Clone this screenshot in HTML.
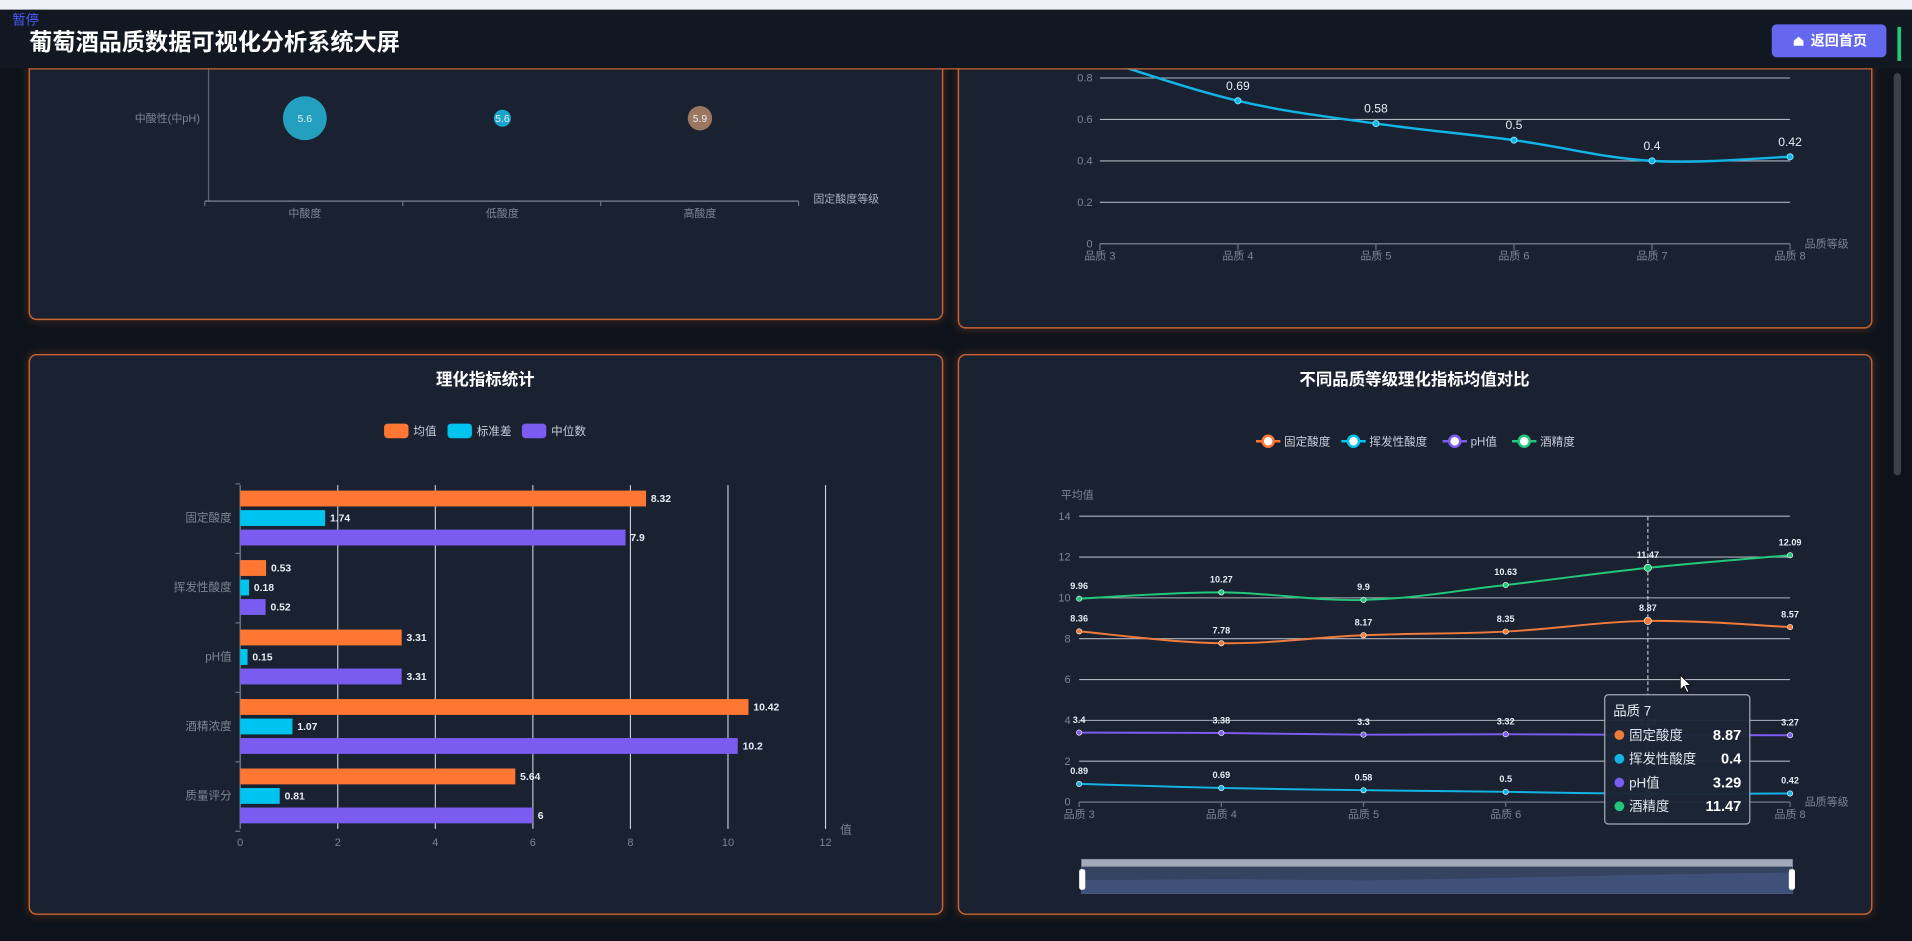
<!DOCTYPE html>
<html><head><meta charset="utf-8">
<style>
html,body{margin:0;padding:0;background:#0e131b;width:1912px;height:941px;overflow:hidden}
svg{display:block}
text{font-family:"Liberation Sans","Noto Sans CJK SC",sans-serif}
</style></head>
<body>
<svg id="root" width="1912" height="941" viewBox="0 0 1568 772" preserveAspectRatio="none" xmlns="http://www.w3.org/2000/svg">
<defs>
<filter id="glow" x="-5%" y="-5%" width="110%" height="110%"><feGaussianBlur stdDeviation="3"/></filter>
</defs>
<rect x="0" y="0" width="1568" height="772" fill="#0e131b"/>
<!-- panels -->
<g>
<rect x="24" y="30" width="749" height="232" rx="6" fill="none" stroke="#d0622c" stroke-width="3" opacity="0.35" filter="url(#glow)"/>
<rect x="24" y="30" width="749" height="232" rx="6" fill="#1a2232" stroke="#c9622f" stroke-width="1.2"/>
</g>
<g>
<rect x="786" y="30" width="749" height="239" rx="6" fill="none" stroke="#d0622c" stroke-width="3" opacity="0.35" filter="url(#glow)"/>
<rect x="786" y="30" width="749" height="239" rx="6" fill="#1a2232" stroke="#c9622f" stroke-width="1.2"/>
</g>
<g>
<rect x="24" y="291" width="749" height="459" rx="6" fill="none" stroke="#d0622c" stroke-width="3" opacity="0.35" filter="url(#glow)"/>
<rect x="24" y="291" width="749" height="459" rx="6" fill="#1a2232" stroke="#c9622f" stroke-width="1.2"/>
</g>
<g>
<rect x="786" y="291" width="749" height="459" rx="6" fill="none" stroke="#d0622c" stroke-width="3" opacity="0.35" filter="url(#glow)"/>
<rect x="786" y="291" width="749" height="459" rx="6" fill="#1a2232" stroke="#c9622f" stroke-width="1.2"/>
</g>

<!-- bubble chart static axes -->
<g id="bubble"></g>
<g id="vline"></g>
<g id="bars"></g>
<g id="cmp"></g>

<!-- header -->
<rect x="0" y="0" width="1568" height="8" fill="#eef2f8"/>
<rect x="0" y="8" width="1568" height="48" fill="#111821"/>
<line x1="24" y1="56.5" x2="1535" y2="56.5" stroke="#c9622f" stroke-width="1"/>
<text x="10" y="20" font-size="11" fill="#4a5cff">暂停</text>
<text x="24" y="41" font-size="19" font-weight="bold" fill="#ffffff">葡萄酒品质数据可视化分析系统大屏</text>
<g>
<rect x="1453" y="20" width="94" height="27" rx="4" fill="#6468ee"/>
<path d="M1471 37.5 v-4 l4 -3.5 l4 3.5 v4 z" fill="#fff"/>
<text x="1485" y="37.5" font-size="11.5" font-weight="bold" fill="#fff">返回首页</text>
</g>
<rect x="1553" y="60" width="6" height="330" rx="3" fill="#3b414b"/>
<rect x="1556" y="22" width="3" height="28" fill="#22c77a"/>
</svg>
<script>
// ---------- data ----------
const bubbleCats = ['中酸度','低酸度','高酸度'];
const bubbleVals = [5.6, 5.6, 5.9];
const bubbleSizes = [18, 7, 10];

const qualityCats = ['品质 3','品质 4','品质 5','品质 6','品质 7','品质 8'];
const volatileVals = [0.89, 0.69, 0.58, 0.5, 0.4, 0.42];
const volTicks = [0, 0.2, 0.4, 0.6, 0.8];

const barCats = ['固定酸度','挥发性酸度','pH值','酒精浓度','质量评分'];
const meanVals = [8.32, 0.53, 3.31, 10.42, 5.64];
const stdVals = [1.74, 0.18, 0.15, 1.07, 0.81];
const medianVals = [7.9, 0.52, 3.31, 10.2, 6];
const barTicks = [0, 2, 4, 6, 8, 10, 12];

const fixedAcid = [8.36, 7.78, 8.17, 8.35, 8.87, 8.57];
const volAcid = [0.89, 0.69, 0.58, 0.5, 0.4, 0.42];
const phVals = [3.4, 3.38, 3.3, 3.32, 3.29, 3.27];
const alcohol = [9.96, 10.27, 9.9, 10.63, 11.47, 12.09];
const cmpTicks = [0, 2, 4, 6, 8, 10, 12, 14];

const NS = 'http://www.w3.org/2000/svg';
function mk(parent, tag, attrs, txt){
  const e = document.createElementNS(NS, tag);
  for (const k in attrs) e.setAttribute(k, attrs[k]);
  if (txt !== undefined) e.textContent = txt;
  parent.appendChild(e);
  return e;
}
function smooth(pts){
  let d = 'M' + pts[0][0] + ' ' + pts[0][1];
  for (let i = 0; i < pts.length - 1; i++){
    const p0 = pts[i-1] || pts[i], p1 = pts[i], p2 = pts[i+1], p3 = pts[i+2] || p2;
    const t = 0.18;
    const c1 = [p1[0] + (p2[0]-p0[0])*t, p1[1] + (p2[1]-p0[1])*t];
    const c2 = [p2[0] - (p3[0]-p1[0])*t, p2[1] - (p3[1]-p1[1])*t];
    d += ' C' + c1[0] + ' ' + c1[1] + ' ' + c2[0] + ' ' + c2[1] + ' ' + p2[0] + ' ' + p2[1];
  }
  return d;
}

// ---------- bubble chart ----------
(function(){
  const g = document.getElementById('bubble');
  const bx = i => 250 + i * 162;
  mk(g,'line',{x1:171,y1:56,x2:171,y2:165,stroke:'#5b6472','stroke-width':1});
  mk(g,'line',{x1:168,y1:165,x2:655,y2:165,stroke:'#6b7482','stroke-width':1.2});
  for (let i = 0; i < 4; i++){
    const x = 168 + i * 162.3;
    mk(g,'line',{x1:x,y1:165,x2:x,y2:169,stroke:'#6b7482'});
  }
  const cols = ['#23a0bf','#1aa6cc','#9c7760'];
  bubbleCats.forEach((c,i)=>{
    const t = mk(g,'text',{x:bx(i),y:178,'font-size':9,fill:'#7d8592','text-anchor':'middle'},c);
    
    
    const b = mk(g,'circle',{cx:bx(i),cy:97,r:bubbleSizes[i],fill:cols[i]});
    
    
    mk(g,'text',{x:bx(i),y:100,'font-size':8.5,fill:'#e8eef5','text-anchor':'middle'},bubbleVals[i]);
  });
  mk(g,'text',{x:164,y:100,'font-size':9,fill:'#7d8592','text-anchor':'end'},'中酸性(中pH)');
  mk(g,'text',{x:667,y:166,'font-size':9,fill:'#a8b0bb'},'固定酸度等级');
})();

// ---------- volatile line ----------
(function(){
  const g = document.getElementById('vline');
  const x = i => 902 + i * 113.2;
  const y = v => 200 - v * 170;
  volTicks.forEach(t=>{
    if (t > 0) mk(g,'line',{x1:902,y1:y(t),x2:1468,y2:y(t),stroke:'#c8ccd4','stroke-width':0.9,opacity:0.85});
    mk(g,'text',{x:896,y:y(t)+3,'font-size':9,fill:'#7d8592','text-anchor':'end'},t);
  });
  mk(g,'line',{x1:902,y1:200,x2:1468,y2:200,stroke:'#6b7482','stroke-width':1.2});
  qualityCats.forEach((c,i)=>{
    mk(g,'line',{x1:x(i),y1:200,x2:x(i),y2:205,stroke:'#6b7482'});
    mk(g,'text',{x:x(i),y:213,'font-size':9,fill:'#7d8592','text-anchor':'middle'},c);
  });
  mk(g,'text',{x:1480,y:203,'font-size':9,fill:'#7d8592'},'品质等级');
  const pts = volatileVals.map((v,i)=>[x(i),y(v)]);
  const p = mk(g,'path',{d:smooth(pts),fill:'none',stroke:'#12b4e6','stroke-width':2});
  
  
  pts.forEach((pt,i)=>{
    const c = mk(g,'circle',{cx:pt[0],cy:pt[1],r:2.5,fill:'#12b4e6',stroke:'#7fe0ff','stroke-width':0.8});
    
    
    mk(g,'text',{x:pt[0],y:pt[1]-9,'font-size':10,fill:'#e6ebf2','text-anchor':'middle'},volatileVals[i]);
  });
})();

// ---------- bar chart ----------
(function(){
  const g = document.getElementById('bars');
  const x = v => 197 + v * 40;
  const yc = i => 425 + i * 57;
  mk(g,'text',{x:398,y:316,'font-size':13.5,'font-weight':'bold',fill:'#ffffff','text-anchor':'middle'},'理化指标统计');
  const legend = [['均值','#ff7733',315],['标准差','#00c4f0',367],['中位数','#7b5cf0',428]];
  legend.forEach(l=>{
    const r = mk(g,'rect',{x:l[2],y:347.5,width:20,height:12,rx:3,fill:l[1]});
    
    
    mk(g,'text',{x:l[2]+24,y:357,'font-size':9.5,fill:'#c8ced8'},l[0]);
  });
  barTicks.forEach(t=>{
    if (t > 0) mk(g,'line',{x1:x(t),y1:398,x2:x(t),y2:680,stroke:'#d0d4dc','stroke-width':0.9});
    mk(g,'text',{x:x(t),y:694,'font-size':9,fill:'#7d8592','text-anchor':'middle'},t);
  });
  mk(g,'line',{x1:197,y1:398,x2:197,y2:680,stroke:'#6b7482','stroke-width':1.2});
  for (let i = 0; i <= barCats.length; i++){
    const yy = 397 + i * 57;
    mk(g,'line',{x1:193,y1:yy,x2:197,y2:yy,stroke:'#6b7482'});
  }
  mk(g,'text',{x:689,y:684,'font-size':9.5,fill:'#7d8592'},'值');
  const series = [[meanVals,'#ff7733',-16,'mean'],[stdVals,'#00c4f0',0,'std'],[medianVals,'#7b5cf0',16,'median']];
  barCats.forEach((c,i)=>{
    mk(g,'text',{x:190,y:yc(i)+3,'font-size':9.5,fill:'#7d8592','text-anchor':'end'},c);
    series.forEach(s=>{
      const v = s[0][i];
      const r = mk(g,'rect',{x:197,y:yc(i)+s[2]-6.5,width:x(v)-197,height:13,fill:s[1]});
      
      
      mk(g,'text',{x:x(v)+4,y:yc(i)+s[2]+3,'font-size':8.5,'font-weight':'bold',fill:'#e8edf4'},v);
    });
  });
})();

// ---------- comparison line chart ----------
(function(){
  const g = document.getElementById('cmp');
  const x = i => 885 + i * 116.6;
  const y = v => 658 - v * 16.75;
  mk(g,'text',{x:1160,y:316,'font-size':13.5,'font-weight':'bold',fill:'#ffffff','text-anchor':'middle'},'不同品质等级理化指标均值对比');
  const legend = [['固定酸度','#ff7733',1030],['挥发性酸度','#00c4f0',1100],['pH值','#7b5cf0',1183],['酒精度','#22c77a',1240]];
  legend.forEach(l=>{
    mk(g,'line',{x1:l[2],y1:362,x2:l[2]+20,y2:362,stroke:l[1],'stroke-width':2});
    const c = mk(g,'circle',{cx:l[2]+10,cy:362,r:4.5,fill:'#fff',stroke:l[1],'stroke-width':2});
    
    
    mk(g,'text',{x:l[2]+23,y:365.5,'font-size':9.5,fill:'#c8ced8'},l[0]);
  });
  mk(g,'text',{x:870,y:409,'font-size':9,fill:'#7d8592'},'平均值');
  cmpTicks.forEach(t=>{
    if (t > 0) mk(g,'line',{x1:885,y1:y(t),x2:1468,y2:y(t),stroke:'#c8ccd4','stroke-width':0.9,opacity:0.85});
    mk(g,'text',{x:878,y:y(t)+3,'font-size':9,fill:'#7d8592','text-anchor':'end'},t);
  });
  mk(g,'line',{x1:885,y1:658,x2:1468,y2:658,stroke:'#6b7482','stroke-width':1.2});
  qualityCats.forEach((c,i)=>{
    mk(g,'line',{x1:x(i),y1:658,x2:x(i),y2:662,stroke:'#6b7482'});
    mk(g,'text',{x:x(i),y:671,'font-size':9,fill:'#7d8592','text-anchor':'middle'},c);
  });
  mk(g,'text',{x:1480,y:661,'font-size':9,fill:'#7d8592'},'品质等级');
  mk(g,'line',{x1:x(4),y1:424,x2:x(4),y2:658,stroke:'#e0e4ea','stroke-width':0.8,'stroke-dasharray':'3,2'});
  const series = [[fixedAcid,'#f07a3a','fixed-acidity'],[volAcid,'#12b4e6','volatile-acidity'],[phVals,'#7b5cf0','ph'],[alcohol,'#22c77a','alcohol']];
  series.forEach(s=>{
    const pts = s[0].map((v,i)=>[x(i),y(v)]);
    const p = mk(g,'path',{d:smooth(pts),fill:'none',stroke:s[1],'stroke-width':1.6});
    
    
    pts.forEach((pt,i)=>{
      const c = mk(g,'circle',{cx:pt[0],cy:pt[1],r:i===4?3:2.2,fill:s[1],stroke:'#fff','stroke-width':0.5});
      
      
      mk(g,'text',{x:pt[0],y:pt[1]-8,'font-size':7.5,'font-weight':'bold',fill:'#e6ebf2','text-anchor':'middle'},s[0][i]);
    });
  });
  // data zoom slider
  const dz = mk(g,'g',{});
  
  
  mk(dz,'rect',{x:887,y:705,width:583,height:28,fill:'#2a3448',stroke:'#56627a','stroke-width':0.8});
  mk(dz,'rect',{x:887,y:705,width:583,height:6,fill:'#a3abb9'});
  const sx = i => 887 + i * 116.6;
  const sy = v => 731 - (v - 7) * 3;
  let area = 'M887 733';
  alcohol.forEach((v,i)=>{ area += ' L' + sx(i) + ' ' + sy(v); });
  area += ' L1470 733 Z';
  mk(dz,'path',{d:area,fill:'#3d4d72',opacity:0.9});
  mk(dz,'rect',{x:887,y:711,width:583,height:22,fill:'#4a5e8f',opacity:0.35});
  mk(dz,'rect',{x:885,y:713,width:5,height:17,rx:2,fill:'#fff'});
  mk(dz,'rect',{x:1467,y:713,width:5,height:17,rx:2,fill:'#fff'});
  // tooltip
  const tt = mk(g,'g',{});
  
  
  mk(tt,'rect',{x:1316,y:570,width:119,height:106,rx:3,fill:'#1d2636',stroke:'#a9b0bb','stroke-width':1,opacity:0.96});
  mk(tt,'text',{x:1323,y:587,'font-size':11,fill:'#e6ebf2'},'品质 7');
  const names = ['固定酸度','挥发性酸度','pH值','酒精度'];
  series.forEach((s,k)=>{
    const yy = 607 + k * 19.5;
    mk(tt,'circle',{cx:1328,cy:yy-4,r:4,fill:s[1]});
    mk(tt,'text',{x:1336,y:yy,'font-size':11,fill:'#dfe4ec'},names[k]);
    mk(tt,'text',{x:1428,y:yy,'font-size':12,'font-weight':'bold',fill:'#ffffff','text-anchor':'end'},s[0][4]);
  });
  mk(g,'path',{d:'M1378 554 l0 12 l3 -3 l2.5 5 l1.5 -0.7 l-2.5 -5 l4 0 z',fill:'#fff',stroke:'#000','stroke-width':0.6});
})();
</script>
</body></html>
